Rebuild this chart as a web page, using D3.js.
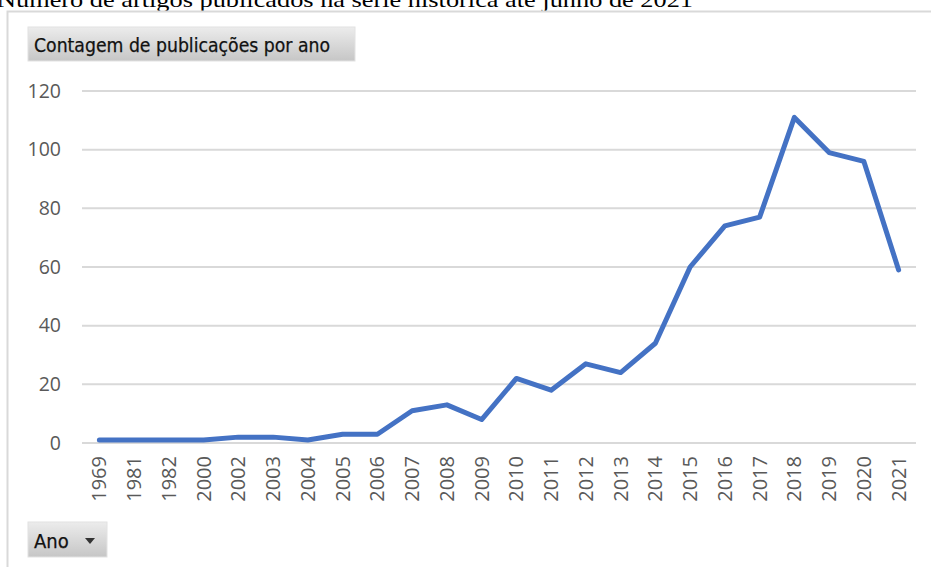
<!DOCTYPE html>
<html>
<head>
<meta charset="utf-8">
<script src="https://cdn.jsdelivr.net/npm/d3@7"></script>
<style>
  html, body { margin: 0; padding: 0; background: #fff; overflow: hidden; }
  svg { display: block; }
</style>
</head>
<body>
<svg id="chart" width="931" height="567"></svg>
<script>
// Publications per year
const years = ["1969","1981","1982","2000","2002","2003","2004","2005","2006","2007","2008","2009","2010","2011","2012","2013","2014","2015","2016","2017","2018","2019","2020","2021"];
const counts = [1,1,1,1,2,2,1,3,3,11,13,8,22,18,27,24,34,60,74,77,111,99,96,59];
const yTicks = [0,20,40,60,80,100,120];

const captionText = "Número de artigos publicados na série histórica até junho de 2021";
const seriesLabel = "Contagem de publicações por ano";
const fieldLabel = "Ano";

const svg = d3.select("#chart");
const W = 931, H = 567;
const plot = { left: 82, right: 916, top: 91, bottom: 443 };

// Caption above the chart frame
svg.append("text")
  .attr("x", -3).attr("y", 7)
  .attr("font-family", "'Liberation Serif', 'Times New Roman', serif")
  .attr("font-size", 22)
  .attr("fill", "#000")
  .attr("textLength", 696)
  .attr("lengthAdjust", "spacingAndGlyphs")
  .text(captionText);

// Chart frame (top and left edges)
svg.append("path")
  .attr("d", `M7.5,${H} V11.5 H${W}`)
  .attr("fill", "none")
  .attr("stroke", "#d9d9d9")
  .attr("stroke-width", 2);

// Gradient for the field buttons
const defs = svg.append("defs");
const grad = defs.append("linearGradient").attr("id", "btn").attr("x1", 0).attr("y1", 0).attr("x2", 0).attr("y2", 1);
grad.append("stop").attr("offset", "0%").attr("stop-color", "#ececec");
grad.append("stop").attr("offset", "100%").attr("stop-color", "#c6c6c6");

// Series field button
svg.append("rect")
  .attr("x", 28).attr("y", 27).attr("width", 327).attr("height", 34)
  .attr("fill", "url(#btn)").attr("stroke", "#e2e2e2").attr("stroke-width", 1);
svg.append("text")
  .attr("x", 34).attr("y", 52)
  .attr("font-family", "'DejaVu Sans Condensed', 'Liberation Sans Narrow', Tahoma, sans-serif")
  .attr("font-size", 19)
  .attr("fill", "#111")
  .attr("stroke", "#111").attr("stroke-width", 0.25)
  .attr("textLength", 296)
  .attr("lengthAdjust", "spacingAndGlyphs")
  .text(seriesLabel);

// Scales
const x = d3.scaleBand().domain(years).range([plot.left, plot.right]);
const y = d3.scaleLinear().domain([0, 120]).range([plot.bottom, plot.top]);

// Horizontal gridlines
svg.append("g")
  .selectAll("line")
  .data(yTicks)
  .join("line")
  .attr("x1", plot.left).attr("x2", plot.right)
  .attr("y1", d => y(d)).attr("y2", d => y(d))
  .attr("stroke", "#d9d9d9")
  .attr("stroke-width", 2);

// Y axis labels
const yAxis = d3.axisLeft(y).tickValues(yTicks).tickSize(0).tickPadding(0);
const gy = svg.append("g").attr("transform", "translate(61,0)").call(yAxis);
gy.select(".domain").remove();
gy.selectAll("text")
  .attr("font-family", "'Open Sans', 'Noto Sans', sans-serif")
  .attr("font-size", 19.5)
  .attr("fill", "#595959");

// X axis labels, rotated vertically
const xAxis = d3.axisBottom(x).tickSize(0).tickPadding(0);
const gx = svg.append("g").attr("transform", `translate(0,${plot.bottom})`).call(xAxis);
gx.select(".domain").remove();
gx.selectAll("text")
  .attr("font-family", "'Open Sans', 'Noto Sans', sans-serif")
  .attr("font-size", 20)
  .attr("fill", "#595959")
  .attr("text-anchor", "end")
  .attr("dy", null)
  .attr("transform", "translate(7,13) rotate(-90)");

// Data line
const line = d3.line()
  .x((d, i) => x(years[i]) + x.bandwidth() / 2)
  .y(d => y(d));
svg.append("path")
  .datum(counts)
  .attr("d", line)
  .attr("fill", "none")
  .attr("stroke", "#4472c4")
  .attr("stroke-width", 5)
  .attr("stroke-linejoin", "round")
  .attr("stroke-linecap", "round");

// Axis field button
svg.append("rect")
  .attr("x", 28).attr("y", 522).attr("width", 79).attr("height", 35)
  .attr("fill", "url(#btn)").attr("stroke", "#e2e2e2").attr("stroke-width", 1);
svg.append("text")
  .attr("x", 34).attr("y", 548)
  .attr("font-family", "'DejaVu Sans Condensed', Tahoma, sans-serif")
  .attr("font-size", 20)
  .attr("fill", "#111")
  .attr("stroke", "#111").attr("stroke-width", 0.25)
  .text(fieldLabel);
svg.append("path")
  .attr("d", "M85,538 L95,538 L90,544 Z")
  .attr("fill", "#333");
</script>
</body>
</html>
